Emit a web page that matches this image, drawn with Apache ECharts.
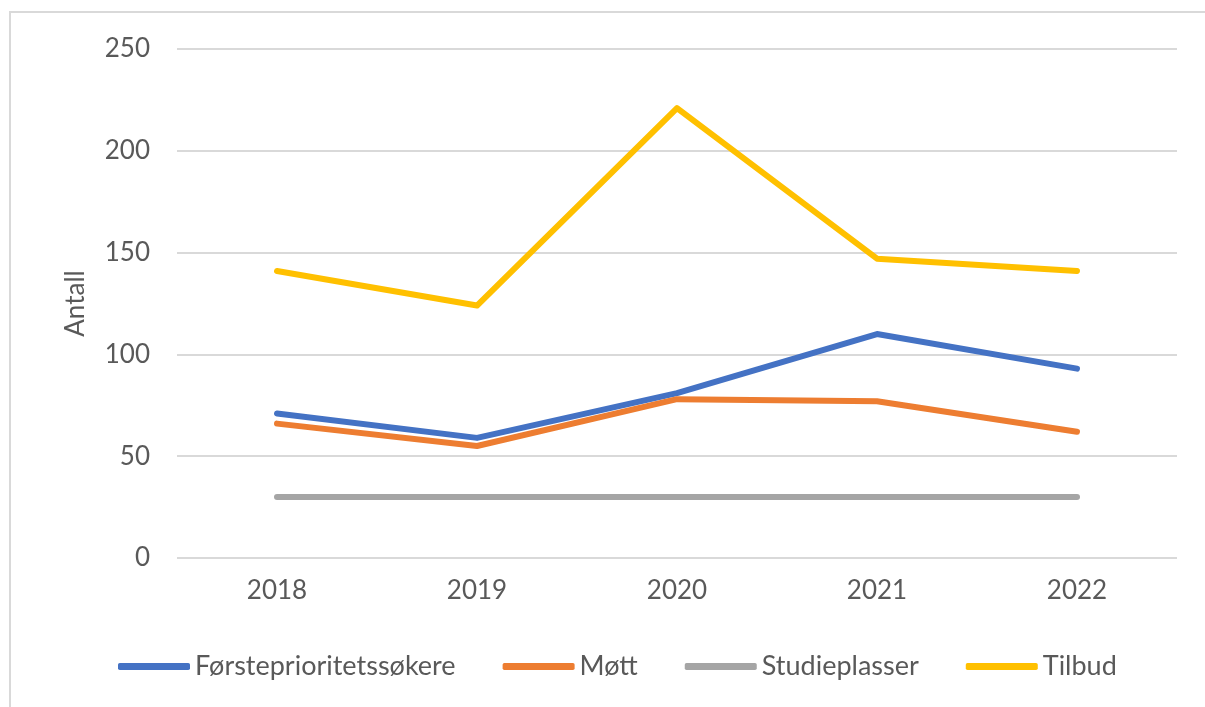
<!DOCTYPE html>
<html>
<head>
<meta charset="utf-8">
<script src="https://cdn.jsdelivr.net/npm/echarts@6/dist/echarts.min.js"></script>
<style>
html,body{margin:0;padding:0;background:#fff;}
#chart{width:1205px;height:707px;}
</style>
</head>
<body>
<div id="chart"></div>
<script>
const categories = ['2018', '2019', '2020', '2021', '2022'];
const forsteprioritet = [71, 59, 81, 110, 93];
const mott = [66, 55, 78, 77, 62];
const studieplasser = [30, 30, 30, 30, 30];
const tilbud = [141, 124, 221, 147, 141];
const yTicks = [0, 50, 100, 150, 200, 250];

const FONT = 'Lato';
const TXT = '#595959';

const chart = echarts.init(document.getElementById('chart'));
function line(name, data, color) {
  return {
    name: name, type: 'line', data: data, symbol: 'none',
    lineStyle: { color: color, width: 6, cap: 'round', join: 'round' },
    itemStyle: { color: color },
    emphasis: { disabled: true }, animation: false
  };
}
chart.setOption({
  animation: false,
  graphic: [{
    type: 'rect', shape: { x: 10, y: 12, width: 1300, height: 800 },
    style: { fill: 'none', stroke: '#D9D9D9', lineWidth: 2 }, silent: true
  }],
  grid: { left: 177, right: 28, top: 49, bottom: 149, containLabel: false },
  legend: {
    left: 113, top: 648,
    itemWidth: 72, itemHeight: 7, itemGap: 47,
    icon: 'roundRect',
    textStyle: { fontFamily: FONT, fontSize: 27, color: TXT, padding: [0, 0, 0, 0] },
    data: ['Førsteprioritetssøkere', 'Møtt', 'Studieplasser', 'Tilbud']
  },
  xAxis: {
    type: 'category', data: categories, boundaryGap: true,
    axisLine: { show: false }, axisTick: { show: false },
    axisLabel: { fontFamily: FONT, fontSize: 26, color: TXT, margin: 20 }
  },
  yAxis: {
    type: 'value', min: yTicks[0], max: yTicks[yTicks.length - 1], interval: 50,
    name: 'Antall', nameLocation: 'middle', nameGap: 88, nameRotate: 90,
    nameTextStyle: { fontFamily: FONT, fontSize: 26, color: TXT },
    axisLine: { show: false }, axisTick: { show: false },
    axisLabel: { fontFamily: FONT, fontSize: 26, color: TXT, margin: 27 },
    splitLine: { lineStyle: { color: '#D9D9D9', width: 2 } }
  },
  series: [
    line('Førsteprioritetssøkere', forsteprioritet, '#4472C4'),
    line('Møtt', mott, '#ED7D31'),
    line('Studieplasser', studieplasser, '#A5A5A5'),
    line('Tilbud', tilbud, '#FFC000')
  ]
});
</script>
</body>
</html>
